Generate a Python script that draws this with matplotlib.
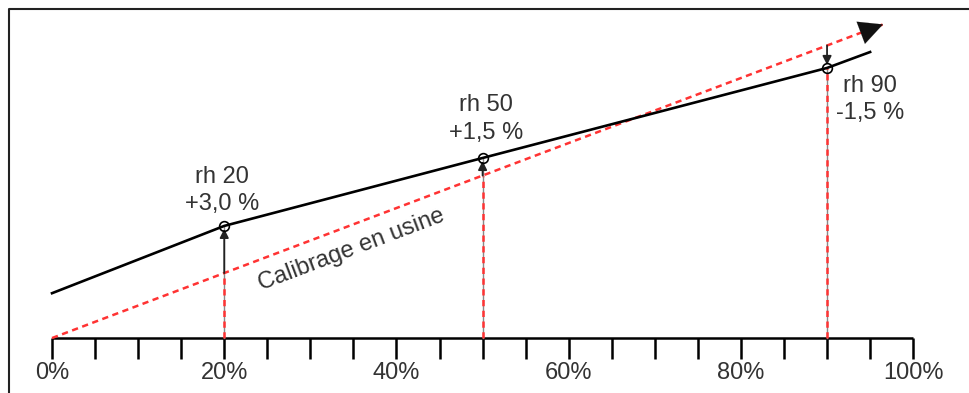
import matplotlib.pyplot as plt

plt.rcParams['font.family'] = ['Liberation Sans', 'DejaVu Sans']

# x axis in % rh, y in the same units (factory calibration is the diagonal)
tick_pos = list(range(0, 101, 5))
label_pos = [0, 20, 40, 60, 80, 100]
label_txt = ['0%', '20%', '40%', '60%', '80%', '100%']

calib_x = [0, 96.5]
calib_y = [0, 96.5]

sensor_x = [0, 20, 50, 90, 95]
sensor_y = [13.8, 34.5, 55.4, 83.1, 88.0]

pts_x = [20, 50, 90]
pts_y = [34.5, 55.4, 83.1]
pts_txt = ['rh 20\n+3,0 %', 'rh 50\n+1,5 %', 'rh 90\n-1,5 %']
txt_pos = [(19.7, 45.5), (50.4, 67.4), (95.0, 73.5)]

red = '#ff3333'
txtcol = '#333333'

fig = plt.figure(figsize=(9.7, 3.93), dpi=100)
ax = fig.add_axes([0, 0, 1, 1])
ax.set_xlim(-6.04, 106.6)
ax.set_ylim(-16.9, 104.0)
ax.axis('off')

# frame (cropped box)
ax.plot([9/970, 9/970, 1], [0, 1 - 9/393, 1 - 9/393], transform=ax.transAxes,
        color='#222222', lw=1.5, clip_on=False)

# axis with ticks
ax.plot([0, 100], [0, 0], color='black', lw=1.8, solid_capstyle='butt')
ax.vlines(tick_pos, -6.5, 0, color='black', lw=1.8)
for p, t in zip(label_pos, label_txt):
    ax.text(p, -10.8, t, ha='center', va='center', fontsize=17, color=txtcol)

# verticals at calibration points
for x, y in zip(pts_x, pts_y):
    ry = x  # calibration value
    ax.plot([x, x], [0, y], color='#888888', lw=1.0, zorder=2)
    ax.plot([x, x], [0, min(ry, y)], color=red, lw=1.8, dashes=(2.5, 1.8), zorder=3)
    ax.annotate('', xy=(x, y - 0.9 if y > ry else y + 0.9), xytext=(x, ry),
                arrowprops=dict(arrowstyle='-|>', color='#222222', lw=1.3,
                                mutation_scale=13, shrinkA=0, shrinkB=0), zorder=4)

# factory calibration line with arrow head
ax.plot(calib_x, calib_y, color=red, lw=1.8, dashes=(2.5, 1.8), zorder=3)
ax.annotate('', xy=(calib_x[1], calib_y[1]), xytext=(calib_x[1] - 2.5, calib_y[1] - 2.5),
            arrowprops=dict(arrowstyle='-|>,head_length=1.0,head_width=0.5',
                            color='#111111', lw=0.1, mutation_scale=17,
                            shrinkA=0, shrinkB=0), zorder=5)

# sensor curve
ax.plot(sensor_x, sensor_y, color='black', lw=1.9, zorder=4)
ax.plot(pts_x, pts_y, 'o', ms=7, mfc='none', mec='black', mew=1.2, zorder=5)

for (tx, ty), t in zip(txt_pos, pts_txt):
    ax.text(tx, ty, t, ha='center', va='center', multialignment='center',
            fontsize=17, color=txtcol, linespacing=1.3)

ax.text(34.8, 27.0, 'Calibrage en usine', ha='center', va='center',
        rotation=20.7, fontsize=17, color=txtcol, rotation_mode='anchor')

fig.savefig('out.png', dpi=100)
